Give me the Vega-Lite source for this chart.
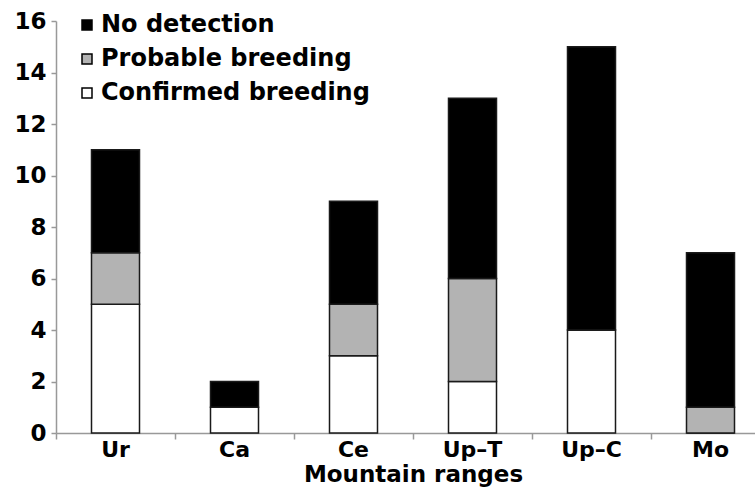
{
  "$schema": "https://vega.github.io/schema/vega-lite/v6.json",
  "autosize": "none",
  "width": 699,
  "height": 412,
  "padding": {"left": 56, "top": 21, "right": 0, "bottom": 55},
  "background": "white",
  "config": {"view": {"stroke": null}},
  "data": {
    "values": [
      {"range": "Ur", "status": "Confirmed breeding", "level": 1, "count": 5},
      {"range": "Ur", "status": "Probable breeding", "level": 2, "count": 2},
      {"range": "Ur", "status": "No detection", "level": 3, "count": 4},
      {"range": "Ca", "status": "Confirmed breeding", "level": 1, "count": 1},
      {"range": "Ca", "status": "Probable breeding", "level": 2, "count": 0},
      {"range": "Ca", "status": "No detection", "level": 3, "count": 1},
      {"range": "Ce", "status": "Confirmed breeding", "level": 1, "count": 3},
      {"range": "Ce", "status": "Probable breeding", "level": 2, "count": 2},
      {"range": "Ce", "status": "No detection", "level": 3, "count": 4},
      {"range": "Up–T", "status": "Confirmed breeding", "level": 1, "count": 2},
      {"range": "Up–T", "status": "Probable breeding", "level": 2, "count": 4},
      {"range": "Up–T", "status": "No detection", "level": 3, "count": 7},
      {"range": "Up–C", "status": "Confirmed breeding", "level": 1, "count": 4},
      {"range": "Up–C", "status": "Probable breeding", "level": 2, "count": 0},
      {"range": "Up–C", "status": "No detection", "level": 3, "count": 11},
      {"range": "Mo", "status": "Confirmed breeding", "level": 1, "count": 0},
      {"range": "Mo", "status": "Probable breeding", "level": 2, "count": 1},
      {"range": "Mo", "status": "No detection", "level": 3, "count": 6}
    ]
  },
  "mark": {"type": "bar", "size": 48, "stroke": "#1a1a1a", "strokeWidth": 1.5},
  "encoding": {
    "x": {
      "field": "range",
      "type": "nominal",
      "sort": null,
      "scale": {"range": [0, 714], "paddingInner": 0, "paddingOuter": 0},
      "axis": {
        "title": "Mountain ranges",
        "titleFont": "DejaVu Sans",
        "titleFontWeight": "bold",
        "titleFontSize": 23,
        "titleColor": "#000",
        "titleBaseline": "alphabetic",
        "titleY": 48,
        "labelAngle": 0,
        "labelFont": "DejaVu Sans",
        "labelFontWeight": "bold",
        "labelFontSize": 22,
        "labelColor": "#000",
        "labelBaseline": "alphabetic",
        "labelPadding": 17,
        "bandPosition": 0,
        "tickSize": 6,
        "tickColor": "#999",
        "domainColor": "#999",
        "domainWidth": 1.5,
        "tickWidth": 1.5
      }
    },
    "y": {
      "field": "count",
      "type": "quantitative",
      "stack": "zero",
      "scale": {"domain": [0, 16], "nice": false},
      "axis": {
        "title": null,
        "values": [0, 2, 4, 6, 8, 10, 12, 14, 16],
        "grid": false,
        "labelFont": "DejaVu Sans",
        "labelFontWeight": "bold",
        "labelFontSize": 23,
        "labelColor": "#000",
        "labelPadding": 5,
        "tickSize": 5,
        "tickColor": "#999",
        "domainColor": "#999",
        "domainWidth": 1.5,
        "tickWidth": 1.5
      }
    },
    "color": {
      "field": "status",
      "type": "nominal",
      "scale": {
        "domain": ["No detection", "Probable breeding", "Confirmed breeding"],
        "range": ["#000000", "#b3b3b3", "#ffffff"]
      },
      "legend": {
        "title": null,
        "orient": "none",
        "legendX": 19,
        "legendY": -8,
        "symbolType": "square",
        "symbolSize": 100,
        "symbolStrokeColor": "#000",
        "symbolStrokeWidth": 1.5,
        "labelFont": "DejaVu Sans",
        "labelFontWeight": "bold",
        "labelFontSize": 24,
        "labelColor": "#000",
        "labelOffset": 2,
        "rowPadding": 10,
        "labelLimit": 400
      }
    },
    "order": {"field": "level", "type": "quantitative", "sort": "ascending"}
  }
}
